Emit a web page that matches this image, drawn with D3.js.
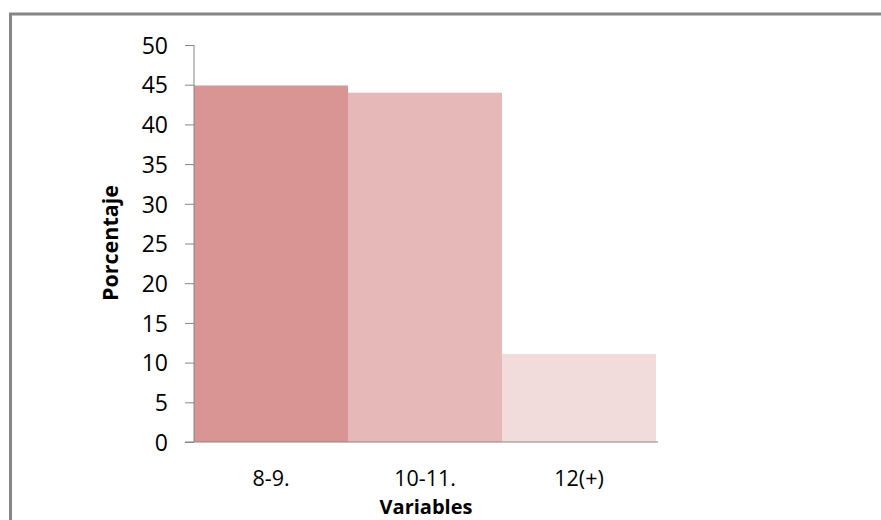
<!DOCTYPE html>
<html>
<head>
<meta charset="utf-8">
<script src="https://cdn.jsdelivr.net/npm/d3@7"></script>
<style>
  body { margin: 0; background: #fff; }
  svg { display: block; }
  text { font-family: "Open Sans", "Noto Sans", sans-serif; fill: #000; }
</style>
</head>
<body>
<div id="chart"></div>
<script>
// Porcentaje por variables
let categories = ['8-9.', '10-11.', '12(+)'];
let values = [44.9, 44.0, 11.1];
let barColors = ['#d99594', '#e6b9b8', '#f2dcdb'];
let yTicks = [0, 5, 10, 15, 20, 25, 30, 35, 40, 45, 50];

let width = 881;
let height = 520;
let margin = { top: 45, left: 194, right: 225, bottom: 78 };

let svg = d3.select('#chart').append('svg')
  .attr('width', width)
  .attr('height', height);

// chart frame
svg.append('rect')
  .attr('x', 10.5)
  .attr('y', 14)
  .attr('width', width + 20)
  .attr('height', height + 20)
  .attr('fill', 'none')
  .attr('stroke', '#868686')
  .attr('stroke-width', 3);

let x = d3.scaleBand()
  .domain(categories)
  .range([margin.left, width - margin.right])
  .padding(0);

let y = d3.scaleLinear()
  .domain([0, 50])
  .range([height - margin.bottom, margin.top]);

svg.selectAll('rect.bar')
  .data(values)
  .enter()
  .append('rect')
  .attr('class', 'bar')
  .attr('x', (d, i) => x(categories[i]))
  .attr('y', d => y(d))
  .attr('width', x.bandwidth())
  .attr('height', d => y(0) - y(d))
  .style('fill', (d, i) => barColors[i]);

// y axis
let yAxis = svg.append('g')
  .attr('transform', 'translate(' + margin.left + ',0)')
  .call(d3.axisLeft(y).tickValues(yTicks).tickSize(9).tickPadding(17));
yAxis.selectAll('line').attr('stroke', '#868686');
yAxis.select('.domain').attr('stroke', '#868686').attr('d', 'M0,' + y(50) + 'V' + y(0));
yAxis.selectAll('text')
  .attr('dy', '0.36em')
  .style('font-size', '23px')
  .style('font-family', '"Open Sans", sans-serif');

// x axis
let xAxis = svg.append('g')
  .attr('transform', 'translate(0,' + y(0) + ')')
  .call(d3.axisBottom(x).tickSize(0).tickPadding(0));
xAxis.select('.domain').attr('stroke', '#868686')
  .attr('d', 'M' + (margin.left - 9) + ',0H' + (width - margin.right + 2));
xAxis.selectAll('text')
  .attr('y', 43.5)
  .attr('dy', 0)
  .style('font-size', '21.5px')
  .style('font-family', '"Open Sans", sans-serif');

// axis titles
svg.append('text')
  .attr('transform', 'translate(118,243) rotate(-90)')
  .attr('text-anchor', 'middle')
  .style('font-size', '21.5px')
  .style('font-weight', 'bold')
  .text('Porcentaje');

svg.append('text')
  .attr('x', 426)
  .attr('y', 513.5)
  .attr('text-anchor', 'middle')
  .style('font-size', '20px')
  .style('font-weight', 'bold')
  .text('Variables');
</script>
</body>
</html>
